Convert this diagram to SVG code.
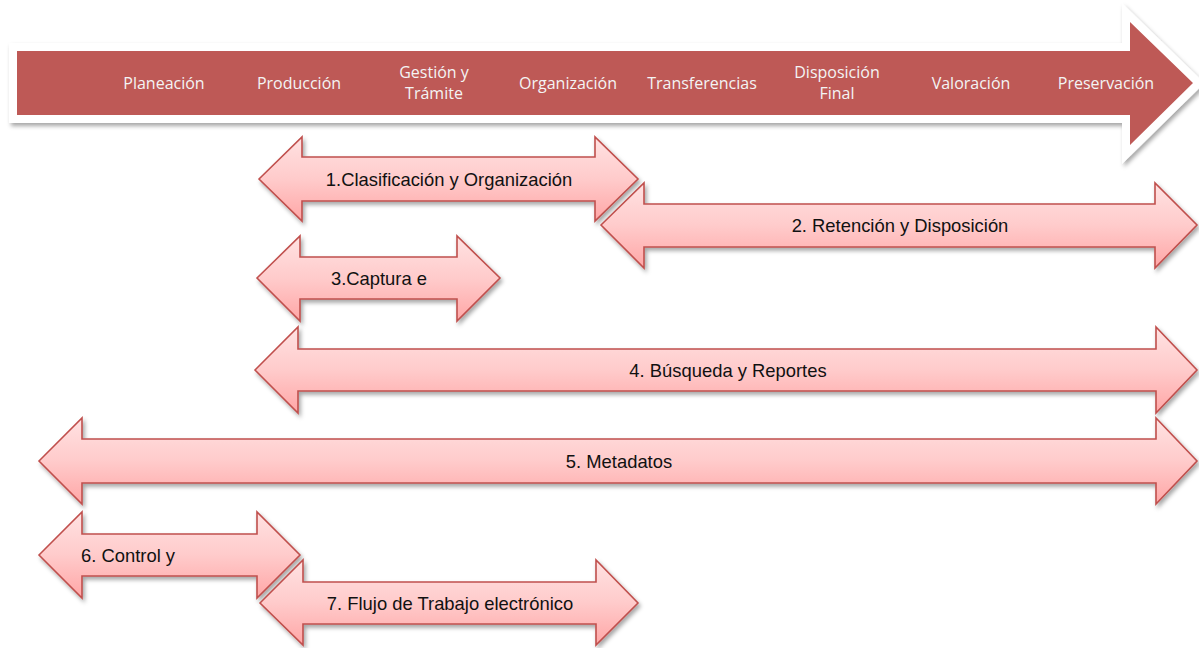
<svg xmlns="http://www.w3.org/2000/svg" width="1199" height="648" viewBox="0 0 1199 648">
<defs>
<filter id="sh" x="-5%" y="-20%" width="110%" height="150%">
<feDropShadow dx="2" dy="3" stdDeviation="2" flood-color="#000" flood-opacity="0.35"/>
</filter>
<linearGradient id="pg" x1="0" y1="0" x2="0" y2="1">
<stop offset="0" stop-color="#FFE2E2"/>
<stop offset="0.5" stop-color="#FFCBCB"/>
<stop offset="1" stop-color="#FFA6A6"/>
</linearGradient>
<style>
.top{font-family:"Open Sans","Noto Sans",sans-serif;font-size:16px;fill:#F4F4F4;text-anchor:middle}
.da{fill:url(#pg);stroke:#C0504D;stroke-width:1.6;stroke-linejoin:miter;filter:url(#sh)}
.lb{font-family:"Liberation Sans",Arial,sans-serif;font-size:18.4px;fill:#111;text-anchor:middle}
</style>
</defs>
<g id="timeline">
<path d="M17 51 H1130 V22 L1193 83 L1130 145 V115 H17 Z" fill="#fff" stroke="#fff" stroke-width="16" stroke-linejoin="miter" filter="url(#sh)"/>
<path d="M17 51 H1130 V22 L1193 83 L1130 145 V115 H17 Z" fill="#BE5956"/>
<text class="top" x="164" y="89">Planeación</text>
<text class="top" x="299" y="89">Producción</text>
<text class="top" x="434" y="78">Gestión y</text>
<text class="top" x="434" y="99">Trámite</text>
<text class="top" x="568" y="89">Organización</text>
<text class="top" x="702" y="89">Transferencias</text>
<text class="top" x="837" y="78">Disposición</text>
<text class="top" x="837" y="99">Final</text>
<text class="top" x="971" y="89">Valoración</text>
<text class="top" x="1106" y="89">Preservación</text>
</g>
<g id="a1">
<path class="da" d="M259 179 L302 137 V157 H595 V137 L638 179 L595 221 V201 H302 V221 Z"/>
<text class="lb" x="449" y="186">1.Clasificación y Organización</text>
</g>
<g id="a2">
<path class="da" d="M601 225 L644 183 V204 H1155 V183 L1197 225 L1155 268 V247 H644 V268 Z"/>
<text class="lb" x="900" y="232">2. Retención y Disposición</text>
</g>
<g id="a3">
<path class="da" d="M257 278 L300 236 V257 H457 V236 L500 278 L457 321 V299 H300 V321 Z"/>
<text class="lb" x="379" y="285">3.Captura e</text>
</g>
<g id="a4">
<path class="da" d="M255 370 L298 327 V349 H1156 V327 L1197 370 L1156 413 V391 H298 V413 Z"/>
<text class="lb" x="728" y="377">4. Búsqueda y Reportes</text>
</g>
<g id="a5">
<path class="da" d="M39 461 L82 418 V439 H1156 V418 L1197 461 L1156 504 V483 H82 V504 Z"/>
<text class="lb" x="619" y="468">5. Metadatos</text>
</g>
<g id="a6">
<path class="da" d="M39 555 L82 512 V534 H257 V512 L300 555 L257 598 V576 H82 V598 Z"/>
<text class="lb" x="81" y="562" style="text-anchor:start">6. Control y</text>
</g>
<g id="a7">
<path class="da" d="M260 603 L303 560 V582 H596 V560 L638 603 L596 645 V624 H303 V645 Z"/>
<text class="lb" x="450" y="610">7. Flujo de Trabajo electrónico</text>
</g>
<g id="connectors"/>
</svg>
